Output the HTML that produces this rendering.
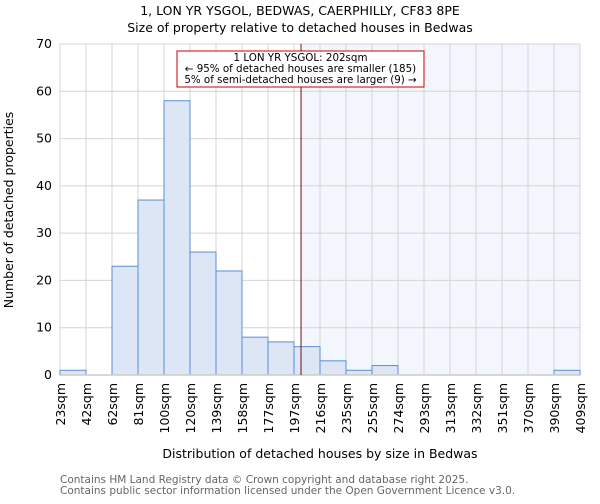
<!DOCTYPE html>
<html><head><meta charset="utf-8"><style>
body{margin:0;background:#fff;font-family:"DejaVu Sans","Liberation Sans",sans-serif}
svg text{font-family:"DejaVu Sans","Liberation Sans",sans-serif}
</style></head><body>
<svg id="chart" width="600" height="500" xmlns="http://www.w3.org/2000/svg">
<text x="300" y="15" font-size="12.5" text-anchor="middle">1, LON YR YSGOL, BEDWAS, CAERPHILLY, CF83 8PE</text>
<text x="300" y="32" font-size="12.5" text-anchor="middle">Size of property relative to detached houses in Bedwas</text>
<g id="plot"></g>
<text x="320" y="458" font-size="12.5" text-anchor="middle">Distribution of detached houses by size in Bedwas</text>
<text transform="translate(13,210) rotate(-90)" font-size="12.5" text-anchor="middle">Number of detached properties</text>
<text x="60" y="483" font-size="10.5" fill="#666">Contains HM Land Registry data © Crown copyright and database right 2025.</text>
<text x="60" y="494" font-size="10.5" fill="#666">Contains public sector information licensed under the Open Government Licence v3.0.</text>
</svg>
<script>
const binLabels=["23sqm","42sqm","62sqm","81sqm","100sqm","120sqm","139sqm","158sqm","177sqm","197sqm","216sqm","235sqm","255sqm","274sqm","293sqm","313sqm","332sqm","351sqm","370sqm","390sqm","409sqm"];
const counts=[1,0,23,37,58,26,22,8,7,6,3,1,2,0,0,0,0,0,0,1];
const yTicks=[0,10,20,30,40,50,60,70];
const markerBin=9.27;
const annotationLines=["1 LON YR YSGOL: 202sqm","← 95% of detached houses are smaller (185)","5% of semi-detached houses are larger (9) →"];
const NS="http://www.w3.org/2000/svg";
const X0=60,X1=580,Y0=375,Y1=44,YMAX=70;
const bw=(X1-X0)/counts.length;
const xs=i=>X0+i*bw;
const ys=v=>Y0-(v/YMAX)*(Y0-Y1);
const g=document.getElementById('plot');
function mk(t,a){const e=document.createElementNS(NS,t);for(const k in a)e.setAttribute(k,a[k]);g.appendChild(e);return e;}
let e=mk('rect',{x:xs(markerBin),y:Y1,width:X1-xs(markerBin),height:Y0-Y1,fill:'#f3f6fd'});


yTicks.forEach(t=>{
 let l=mk('line',{x1:X0,x2:X1,y1:ys(t),y2:ys(t),stroke:'#d4d4d4','stroke-width':1});
 
 
 let tx=mk('text',{x:X0-8,y:ys(t)+4,'font-size':12.5,'text-anchor':'end'});
 tx.textContent=t;
 
 
});
binLabels.forEach((lab,i)=>{
 let l=mk('line',{x1:xs(i),x2:xs(i),y1:Y1,y2:Y0,stroke:'#d4d4d4','stroke-width':1});
 
 
 let tx=mk('text',{transform:`translate(${xs(i)+5},${Y0+8}) rotate(-90)`,'font-size':12.5,'text-anchor':'end'});
 tx.textContent=lab;
 
 
});
counts.forEach((c,i)=>{
 if(c<=0)return;
 let r=mk('rect',{x:xs(i),y:ys(c),width:bw,height:Y0-ys(c),fill:'#dce6f5',stroke:'#5b8fd6','stroke-width':1});
 
 
});
e=mk('line',{x1:X0,x2:X1,y1:Y0,y2:Y0,stroke:'#ccc','stroke-width':1.5});


e=mk('line',{x1:xs(markerBin),x2:xs(markerBin),y1:Y1,y2:Y0,stroke:'#701010','stroke-width':1});


e=mk('rect',{x:177,y:51,width:247,height:36,fill:'#fff',stroke:'#c00','stroke-width':1});


annotationLines.forEach((s,k)=>{
 let t=mk('text',{x:300.5,y:61+k*11,'font-size':10.3,'text-anchor':'middle','textLength':k==0?'':undefined});
 t.removeAttribute('textLength');
 t.textContent=s;
 
 
});
</script>
</body></html>
